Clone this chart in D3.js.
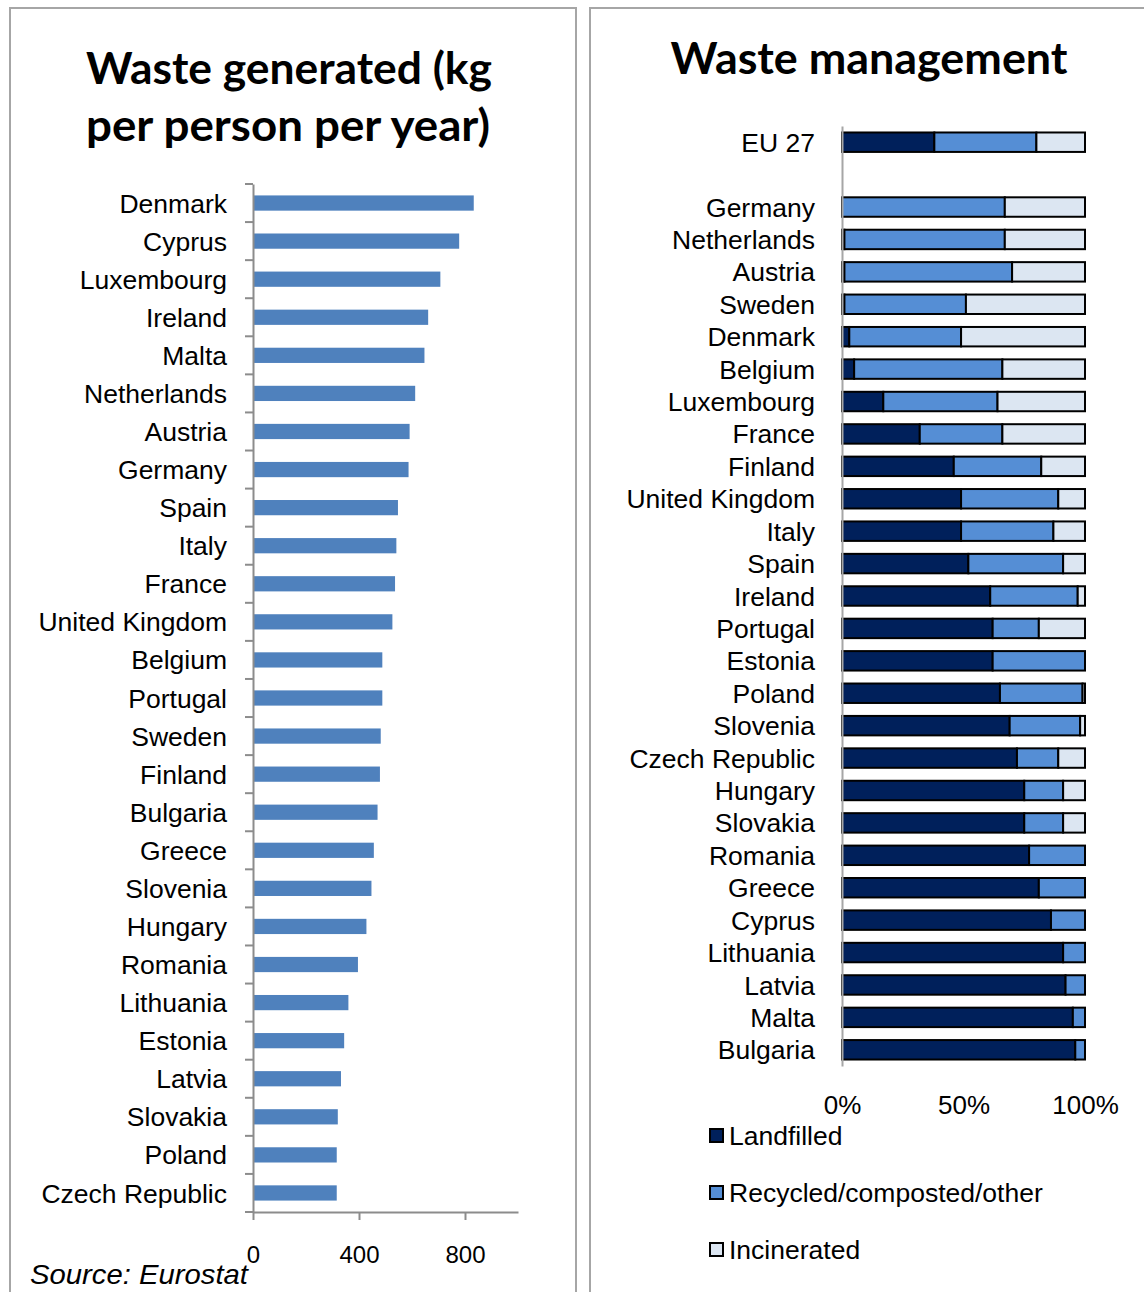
<!DOCTYPE html>
<html>
<head>
<meta charset="utf-8">
<script src="https://cdn.jsdelivr.net/npm/d3@7"></script>
<style>
  html, body { margin: 0; padding: 0; background: #fff; }
  svg { display: block; }
  .lbl { font-family: "Liberation Sans", Arial, sans-serif; fill: #000; }
  .ttl { font-family: Lato, "Open Sans", sans-serif; font-weight: 700; fill: #000; }
</style>
</head>
<body>
<svg id="chart" width="1144" height="1292"></svg>
<script>
// Municipal waste generated, kg per person per year
const wasteCountries = ["Denmark", "Cyprus", "Luxembourg", "Ireland", "Malta", "Netherlands",
  "Austria", "Germany", "Spain", "Italy", "France", "United Kingdom", "Belgium", "Portugal",
  "Sweden", "Finland", "Bulgaria", "Greece", "Slovenia", "Hungary", "Romania", "Lithuania",
  "Estonia", "Latvia", "Slovakia", "Poland", "Czech Republic"];
const wasteKg = [833, 778, 707, 661, 647, 612, 591, 587, 547, 541, 536, 526, 488, 488,
  482, 479, 470, 456, 447, 428, 396, 360, 344, 332, 320, 316, 316];
const wasteTicks = [0, 400, 800];

// Waste treatment shares, % of total
const mgmtCountries = ["EU 27", "Germany", "Netherlands", "Austria", "Sweden", "Denmark",
  "Belgium", "Luxembourg", "France", "Finland", "United Kingdom", "Italy", "Spain", "Ireland",
  "Portugal", "Estonia", "Poland", "Slovenia", "Czech Republic", "Hungary", "Slovakia",
  "Romania", "Greece", "Cyprus", "Lithuania", "Latvia", "Malta", "Bulgaria"];
const landfilled  = [38, 0, 1, 1, 1, 3, 5, 17, 32, 46, 49, 49, 52, 61, 62, 62, 65, 69, 72, 75, 75, 77, 81, 86, 91, 92, 95, 96];
const recycled    = [42, 67, 66, 69, 50, 46, 61, 47, 34, 36, 40, 38, 39, 36, 19, 38, 34, 29, 17, 16, 16, 23, 19, 14, 9, 8, 5, 4];
const incinerated = [20, 33, 33, 30, 49, 51, 34, 36, 34, 18, 11, 13, 9, 3, 19, 0, 1, 2, 11, 9, 9, 0, 0, 0, 0, 0, 0, 0];
const mgmtSeries = ["Landfilled", "Recycled/composted/other", "Incinerated"];
const mgmtColors = ["#00205b", "#558ed5", "#dce6f2"];
const mgmtTicks = [0, 50, 100];

const svg = d3.select("#chart");
const axisGrey = "#8c8c8c";
const labelSize = 26.5;

// ---------- panel frames ----------
svg.append("rect").attr("x", 10).attr("y", 8).attr("width", 566).attr("height", 1300)
  .attr("fill", "none").attr("stroke", "#a6a6a6").attr("stroke-width", 2);
svg.append("rect").attr("x", 590).attr("y", 8).attr("width", 600).attr("height", 1300)
  .attr("fill", "none").attr("stroke", "#a6a6a6").attr("stroke-width", 2);

// ---------- left panel: waste generated ----------
const left = svg.append("g");
left.append("text").attr("class", "ttl").attr("x", 289).attr("y", 84)
  .attr("text-anchor", "middle").attr("font-size", 44)
  .attr("textLength", 406).attr("lengthAdjust", "spacingAndGlyphs")
  .text("Waste generated (kg");
left.append("text").attr("class", "ttl").attr("x", 288).attr("y", 141)
  .attr("text-anchor", "middle").attr("font-size", 44)
  .attr("textLength", 404).attr("lengthAdjust", "spacingAndGlyphs")
  .text("per person per year)");

const xL = d3.scaleLinear().domain([0, 1000]).range([253, 518]);
const yL = d3.scaleBand().domain(wasteCountries).range([184, 1212])
  .paddingInner(0.6).paddingOuter(0.3);

left.selectAll("rect.bar").data(wasteCountries).join("rect")
  .attr("class", "bar")
  .attr("x", xL(0))
  .attr("y", d => yL(d))
  .attr("width", (d, i) => xL(wasteKg[i]) - xL(0))
  .attr("height", yL.bandwidth())
  .attr("fill", "#4f81bd");

// category axis with tick marks between categories
const yAxisL = left.append("g").attr("transform", `translate(${xL(0)},0)`)
  .call(d3.axisLeft(yL).tickSize(0).tickPadding(26));
yAxisL.select(".domain").attr("stroke", axisGrey).attr("stroke-width", 2);
yAxisL.selectAll("text").attr("class", "lbl").attr("font-size", labelSize).attr("dy", "0.36em");
const boundaries = d3.range(wasteCountries.length + 1).map(i => yL.range()[0] + i * yL.step());
left.selectAll("line.sep").data(boundaries).join("line")
  .attr("class", "sep")
  .attr("x1", xL(0) - 8).attr("x2", xL(0))
  .attr("y1", d => d).attr("y2", d => d)
  .attr("stroke", axisGrey).attr("stroke-width", 2);

const xAxisL = left.append("g").attr("transform", `translate(0,${yL.range()[1]})`)
  .call(d3.axisBottom(xL).tickValues(wasteTicks).tickSizeInner(8).tickSizeOuter(0).tickPadding(26));
xAxisL.select(".domain").attr("stroke", axisGrey).attr("stroke-width", 2);
xAxisL.selectAll(".tick line").attr("stroke", axisGrey).attr("stroke-width", 2);
xAxisL.selectAll("text").attr("class", "lbl").attr("font-size", 24);

left.append("text").attr("class", "lbl").attr("x", 30).attr("y", 1284)
  .attr("font-size", 28).attr("font-style", "italic")
  .attr("textLength", 218).attr("lengthAdjust", "spacingAndGlyphs")
  .text("Source: Eurostat");

// ---------- right panel: waste management ----------
const right = svg.append("g");
right.append("text").attr("class", "ttl").attr("x", 869).attr("y", 74)
  .attr("text-anchor", "middle").attr("font-size", 44)
  .attr("textLength", 397).attr("lengthAdjust", "spacingAndGlyphs")
  .text("Waste management");

const gapKey = "gap";
const rowKeys = [mgmtCountries[0], gapKey, ...mgmtCountries.slice(1)];
const xR = d3.scaleLinear().domain([0, 100]).range([842, 1085]);
const yR = d3.scaleBand().domain(rowKeys).range([126, 1066])
  .paddingInner(0.4).paddingOuter(0.2);

const rows = mgmtCountries.map((c, i) => ({
  country: c,
  [mgmtSeries[0]]: landfilled[i],
  [mgmtSeries[1]]: recycled[i],
  [mgmtSeries[2]]: incinerated[i]
}));
const stacked = d3.stack().keys(mgmtSeries)(rows);

right.selectAll("g.series").data(stacked).join("g")
  .attr("class", "series")
  .attr("fill", (d, i) => mgmtColors[i])
  .selectAll("rect").data(d => d).join("rect")
  .attr("x", d => xR(d[0]))
  .attr("y", d => yR(d.data.country))
  .attr("width", d => xR(d[1]) - xR(d[0]))
  .attr("height", yR.bandwidth())
  .attr("stroke", "#000").attr("stroke-width", 2);

const yAxisR = right.append("g").attr("transform", `translate(${xR(0)},0)`)
  .call(d3.axisLeft(yR).tickSize(0).tickPadding(27).tickFormat(d => d === gapKey ? "" : d));
yAxisR.select(".domain").attr("stroke", "#a6a6a6").attr("stroke-width", 2);
yAxisR.selectAll("text").attr("class", "lbl").attr("font-size", labelSize).attr("dy", "0.36em");
yAxisR.raise();

const xAxisR = right.append("g").attr("transform", `translate(0,${yR.range()[1]})`)
  .call(d3.axisBottom(xR).tickValues(mgmtTicks).tickSize(0).tickPadding(30)
    .tickFormat(d => d + "%"));
xAxisR.select(".domain").remove();
xAxisR.selectAll("text").attr("class", "lbl").attr("font-size", 26);

// legend
const legend = right.append("g");
mgmtSeries.forEach((name, i) => {
  const y = 1145 + i * 57;
  legend.append("rect").attr("x", 710).attr("y", y - 16).attr("width", 13).attr("height", 13)
    .attr("fill", mgmtColors[i]).attr("stroke", "#000").attr("stroke-width", 2);
  legend.append("text").attr("class", "lbl").attr("x", 729).attr("y", y)
    .attr("font-size", labelSize).text(name);
});
</script>
</body>
</html>
